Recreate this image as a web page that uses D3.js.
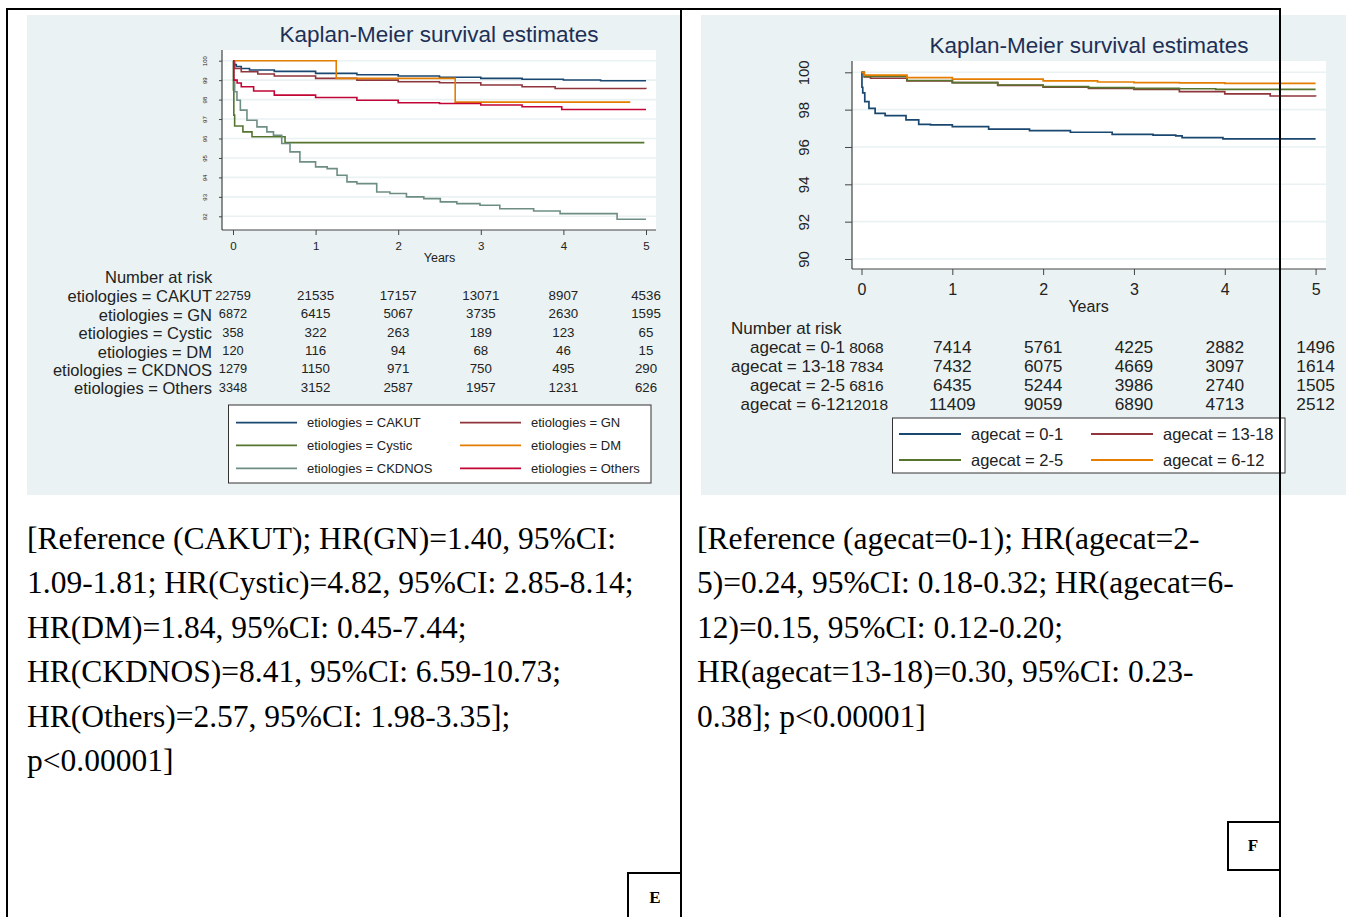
<!DOCTYPE html>
<html>
<head>
<meta charset="utf-8">
<script src="https://cdn.jsdelivr.net/npm/d3@7"></script>
<style>
  body { margin: 0; background: #fff; }
  svg { display: block; }
</style>
</head>
<body>
<div class="chart"></div>
<script>
// ---- data ----
var years = [0, 1, 2, 3, 4, 5];

// panel E: etiologies (time in years, survival %)
var cakut  = [[0,100],[0.01,99.8],[0.04,99.7],[0.1,99.6],[0.2,99.52],[0.5,99.45],[1,99.35],[1.5,99.28],[2,99.21],[2.5,99.15],[3,99.09],[3.5,99.05],[4,99.01],[4.45,98.97],[5,98.97]];
var gn     = [[0,100],[0.02,99.6],[0.1,99.43],[0.3,99.32],[0.5,99.21],[1,99.09],[1.5,99.0],[2,98.92],[2.5,98.87],[3,98.75],[3.5,98.66],[3.9,98.57],[5,98.56]];
var cystic = [[0,100],[0.005,98.5],[0.01,97.2],[0.02,96.64],[0.12,96.34],[0.23,96.09],[0.63,95.79],[4.98,95.79]];
var dm     = [[0,100],[1.25,99.09],[2.69,97.87],[4.81,97.87]];
var ckdnos = [[0,100],[0.008,99.0],[0.02,98.4],[0.048,97.97],[0.089,97.46],[0.169,96.94],[0.29,96.6],[0.41,96.34],[0.49,96.17],[0.59,95.74],[0.69,95.31],[0.81,94.8],[1.0,94.54],[1.14,94.45],[1.26,94.11],[1.38,93.77],[1.5,93.68],[1.74,93.25],[1.9,93.17],[2.1,93.0],[2.31,92.91],[2.51,92.74],[2.71,92.65],[2.99,92.57],[3.23,92.39],[3.64,92.27],[3.96,92.14],[4.65,91.85],[5,91.85]];
var others = [[0,100],[0.01,99.0],[0.05,98.85],[0.1,98.66],[0.25,98.44],[0.5,98.23],[1,98.11],[1.5,97.97],[2,97.84],[2.5,97.8],[3,97.72],[3.5,97.63],[3.98,97.49],[5,97.49]];

var etioNames  = ["CAKUT", "GN", "Cystic", "DM", "CKDNOS", "Others"];
var etioColors = ["#1a476f", "#90353b", "#55752f", "#e37e00", "#6e8e84", "#c10534"];
var etioCurves = [cakut, gn, cystic, dm, ckdnos, others];
var etioRisk = [
  [22759, 21535, 17157, 13071, 8907, 4536],
  [6872, 6415, 5067, 3735, 2630, 1595],
  [358, 322, 263, 189, 123, 65],
  [120, 116, 94, 68, 46, 15],
  [1279, 1150, 971, 750, 495, 290],
  [3348, 3152, 2587, 1957, 1231, 626]
];
var etioTicks = [92, 93, 94, 95, 96, 97, 98, 99, 100];

// panel F: age categories
var age01   = [[0,100],[0.005,99.2],[0.014,98.9],[0.036,98.43],[0.082,98.07],[0.15,97.8],[0.26,97.68],[0.49,97.45],[0.63,97.21],[0.76,97.18],[1.0,97.09],[1.4,96.96],[1.85,96.88],[2.3,96.79],[2.76,96.68],[3.21,96.63],[3.46,96.59],[3.53,96.5],[3.98,96.43],[5,96.43]];
var age1318 = [[0,100],[0.03,99.75],[0.1,99.68],[0.5,99.54],[1,99.45],[1.5,99.3],[2,99.2],[2.5,99.14],[3,99.09],[3.5,98.96],[4,98.84],[4.5,98.73],[5,98.7]];
var age25   = [[0,100],[0.03,99.78],[0.5,99.56],[1,99.45],[1.5,99.32],[2,99.23],[2.5,99.18],[3,99.14],[3.5,99.12],[3.9,99.09],[5,99.09]];
var age612  = [[0,100],[0.03,99.85],[0.5,99.72],[1,99.63],[2,99.54],[2.6,99.48],[3,99.45],[3.5,99.43],[4,99.41],[5,99.41]];

var ageNames  = ["0-1", "13-18", "2-5", "6-12"];
var ageColors = ["#1a476f", "#90353b", "#55752f", "#e37e00"];
var ageCurves = [age01, age1318, age25, age612];
var ageRisk = [
  [8068, 7414, 5761, 4225, 2882, 1496],
  [7834, 7432, 6075, 4669, 3097, 1614],
  [6816, 6435, 5244, 3986, 2740, 1505],
  [12018, 11409, 9059, 6890, 4713, 2512]
];
var ageTicks = [90, 92, 94, 96, 98, 100];

var textE = ["[Reference (CAKUT); HR(GN)=1.40, 95%CI:",
             "1.09-1.81; HR(Cystic)=4.82, 95%CI: 2.85-8.14;",
             "HR(DM)=1.84, 95%CI: 0.45-7.44;",
             "HR(CKDNOS)=8.41, 95%CI: 6.59-10.73;",
             "HR(Others)=2.57, 95%CI: 1.98-3.35];",
             "p<0.00001]"];
var textF = ["[Reference (agecat=0-1); HR(agecat=2-",
             "5)=0.24, 95%CI: 0.18-0.32; HR(agecat=6-",
             "12)=0.15, 95%CI: 0.12-0.20;",
             "HR(agecat=13-18)=0.30, 95%CI: 0.23-",
             "0.38]; p<0.00001]"];

// ---- page ----
var svgWidth = 1346;
var svgHeight = 917;
var sans = "'Liberation Sans', Arial, sans-serif";
var serif = "'Liberation Serif', 'Times New Roman', serif";
var bg = "#eaf2f3";

var svg = d3.select(".chart")
    .append("svg")
    .attr("width", svgWidth)
    .attr("height", svgHeight);

svg.append("rect").attr("width", svgWidth).attr("height", svgHeight).attr("fill", "#fff");

// one Kaplan-Meier panel
function drawKM(p) {
    var g = svg.append("g");
    g.append("rect").attr("x", p.bg[0]).attr("y", p.bg[1]).attr("width", p.bg[2]).attr("height", p.bg[3]).attr("fill", bg);
    g.append("rect").attr("x", p.plot[0]).attr("y", p.plot[1])
        .attr("width", p.plot[2] - p.plot[0]).attr("height", p.plot[3] - p.plot[1]).attr("fill", "#fff");

    var x = d3.scaleLinear().domain([0, 5]).range(p.xr);
    var y = d3.scaleLinear().domain(p.yd).range(p.yr);

    // grid
    g.selectAll(".grid").data(p.ticks).enter().append("line")
        .attr("x1", p.plot[0]).attr("x2", p.plot[2])
        .attr("y1", d => y(d)).attr("y2", d => y(d))
        .attr("stroke", bg).attr("stroke-width", 1.6);

    // axes
    var yAxis = g.append("g").attr("transform", `translate(${p.plot[0]},0)`)
        .call(d3.axisLeft(y).tickValues(p.ticks).tickSize(p.ytick).tickFormat(d3.format("d")));
    yAxis.select(".domain").remove();
    yAxis.selectAll("line").attr("stroke", "#444");
    yAxis.selectAll("text")
        .attr("transform", "rotate(-90)")
        .attr("x", 0).attr("y", -p.ylab).attr("dy", 0)
        .attr("text-anchor", "middle")
        .style("font-family", sans).style("font-size", p.yfs + "px").attr("fill", "#222");

    var xAxis = g.append("g").attr("transform", `translate(0,${p.plot[3]})`)
        .call(d3.axisBottom(x).tickValues(years).tickSize(p.xtick).tickFormat(d3.format("d")));
    xAxis.select(".domain").remove();
    xAxis.selectAll("line").attr("stroke", "#444");
    xAxis.selectAll("text").attr("y", p.xlab).attr("dy", 0)
        .style("font-family", sans).style("font-size", p.xfs + "px").attr("fill", "#222");

    g.append("line").attr("x1", p.plot[0]).attr("x2", p.plot[0]).attr("y1", p.plot[1]).attr("y2", p.plot[3])
        .attr("stroke", "#444").attr("stroke-width", 1.2);
    g.append("line").attr("x1", p.plot[0]).attr("x2", p.plot[2]).attr("y1", p.plot[3]).attr("y2", p.plot[3])
        .attr("stroke", "#444").attr("stroke-width", 1.2);

    // curves
    var line = d3.line().x(d => x(d[0])).y(d => y(d[1])).curve(d3.curveStepAfter);
    p.curves.forEach(function(c, i) {
        g.append("path").datum(c).attr("d", line)
            .attr("fill", "none").attr("stroke", p.colors[i]).attr("stroke-width", p.lw);
    });

    // titles
    g.append("text").attr("x", (p.plot[0] + p.plot[2]) / 2).attr("y", p.titleY)
        .attr("text-anchor", "middle").style("font-family", sans).style("font-size", "22.5px")
        .attr("fill", "#1e2f56").text("Kaplan-Meier survival estimates");
    g.append("text").attr("x", x(2.5)).attr("y", p.yearsY)
        .attr("text-anchor", "middle").style("font-family", sans).style("font-size", p.yearsFs + "px")
        .attr("fill", "#222").text("Years");

    // number at risk
    g.append("text").attr("x", p.nar[0]).attr("y", p.nar[1])
        .style("font-family", sans).style("font-size", p.labFs + "px").attr("fill", "#222").text("Number at risk");
    p.names.forEach(function(n, i) {
        var by = p.row0 + i * p.rowStep;
        g.append("text").attr("x", p.labX).attr("y", by).attr("text-anchor", "end")
            .style("font-family", sans).style("font-size", p.labFs + "px").attr("fill", "#222")
            .text(p.prefix + " = " + n);
        p.risk[i].forEach(function(v, j) {
            g.append("text").attr("x", x(years[j]) + (j === 0 ? p.col0dx : 0)).attr("y", by - p.numUp)
                .attr("text-anchor", "middle").style("font-family", sans)
                .style("font-size", (j === 0 ? p.num0Fs : p.numFs) + "px").attr("fill", "#222")
                .text(v);
        });
    });

    // legend
    var L = p.legend;
    g.append("rect").attr("x", L.box[0]).attr("y", L.box[1]).attr("width", L.box[2]).attr("height", L.box[3])
        .attr("fill", "#fff").attr("stroke", "#333").attr("stroke-width", 1);
    L.order.forEach(function(idx, k) {
        var col = k % 2, row = Math.floor(k / 2);
        var lx = L.cols[col], ly = L.rows[row];
        g.append("line").attr("x1", lx).attr("x2", lx + L.len).attr("y1", ly).attr("y2", ly)
            .attr("stroke", p.colors[idx]).attr("stroke-width", 1.8);
        g.append("text").attr("x", lx + L.len + L.gap).attr("y", ly + L.fs * 0.36)
            .style("font-family", sans).style("font-size", L.fs + "px").attr("fill", "#222")
            .text(p.prefix + " = " + p.names[idx]);
    });
}

drawKM({
    bg: [27, 15, 654, 480],
    plot: [222, 50, 656, 230],
    xr: [233, 646], yd: [92, 100], yr: [216.3, 60.7],
    ticks: etioTicks, ytick: 3, ylab: 14.8, yfs: 6,
    xtick: 5, xlab: 20, xfs: 11.5,
    curves: etioCurves, colors: etioColors, lw: 1.6,
    titleY: 42, yearsY: 261.5, yearsFs: 12.5,
    nar: [105, 283], labFs: 16.5, labX: 212, prefix: "etiologies",
    names: etioNames, risk: etioRisk, row0: 302.3, rowStep: 18.4, numUp: 2.5,
    numFs: 13.3, num0Fs: 12.8, col0dx: 0,
    legend: { box: [228.5, 405, 422.5, 78], cols: [236, 460], rows: [422.7, 445.3, 468.3],
              len: 61, gap: 10, fs: 13, order: [0, 1, 2, 3, 4, 5] }
});

drawKM({
    bg: [701, 15, 645, 480],
    plot: [852, 61, 1326, 269],
    xr: [861.5, 1315.6], yd: [90, 100], yr: [259, 72.3],
    ticks: ageTicks, ytick: 7, ylab: 42.6, yfs: 15,
    xtick: 6, xlab: 26, xfs: 16,
    curves: ageCurves, colors: ageColors, lw: 1.7,
    titleY: 53, yearsY: 311.5, yearsFs: 16,
    nar: [731, 334], labFs: 17, labX: 845, prefix: "agecat",
    names: ageNames, risk: ageRisk, row0: 352.5, rowStep: 19, numUp: 0,
    numFs: 17.3, num0Fs: 15.5, col0dx: 5,
    legend: { box: [892.5, 418, 392.5, 55], cols: [899, 1091], rows: [434, 460],
              len: 62, gap: 10, fs: 16.5, order: [0, 1, 2, 3] }
});

// caption text under each panel
svg.append("g").selectAll("text").data(textE).enter().append("text")
    .attr("x", 27).attr("y", (d, i) => 549 + i * 44.4)
    .style("font-family", serif).style("font-size", "31.5px").attr("fill", "#000")
    .text(d => d);
svg.append("g").selectAll("text").data(textF).enter().append("text")
    .attr("x", 697).attr("y", (d, i) => 549 + i * 44.4)
    .style("font-family", serif).style("font-size", "31.5px").attr("fill", "#000")
    .text(d => d);

// table borders
var border = svg.append("g").attr("stroke", "#000").attr("stroke-width", 2).attr("fill", "none");
border.append("line").attr("x1", 6).attr("x2", 1281).attr("y1", 9).attr("y2", 9);
border.append("line").attr("x1", 7).attr("x2", 7).attr("y1", 8).attr("y2", svgHeight);
border.append("line").attr("x1", 681).attr("x2", 681).attr("y1", 8).attr("y2", svgHeight);
border.append("line").attr("x1", 1280).attr("x2", 1280).attr("y1", 8).attr("y2", svgHeight);

// panel letters
border.append("rect").attr("x", 628).attr("y", 873).attr("width", 53).attr("height", 60);
border.append("rect").attr("x", 1228).attr("y", 822).attr("width", 52).attr("height", 48);
svg.append("text").attr("x", 655).attr("y", 903).attr("text-anchor", "middle")
    .style("font-family", serif).style("font-size", "17px").style("font-weight", "bold").text("E");
svg.append("text").attr("x", 1253).attr("y", 851).attr("text-anchor", "middle")
    .style("font-family", serif).style("font-size", "17px").style("font-weight", "bold").text("F");
</script>
</body>
</html>
